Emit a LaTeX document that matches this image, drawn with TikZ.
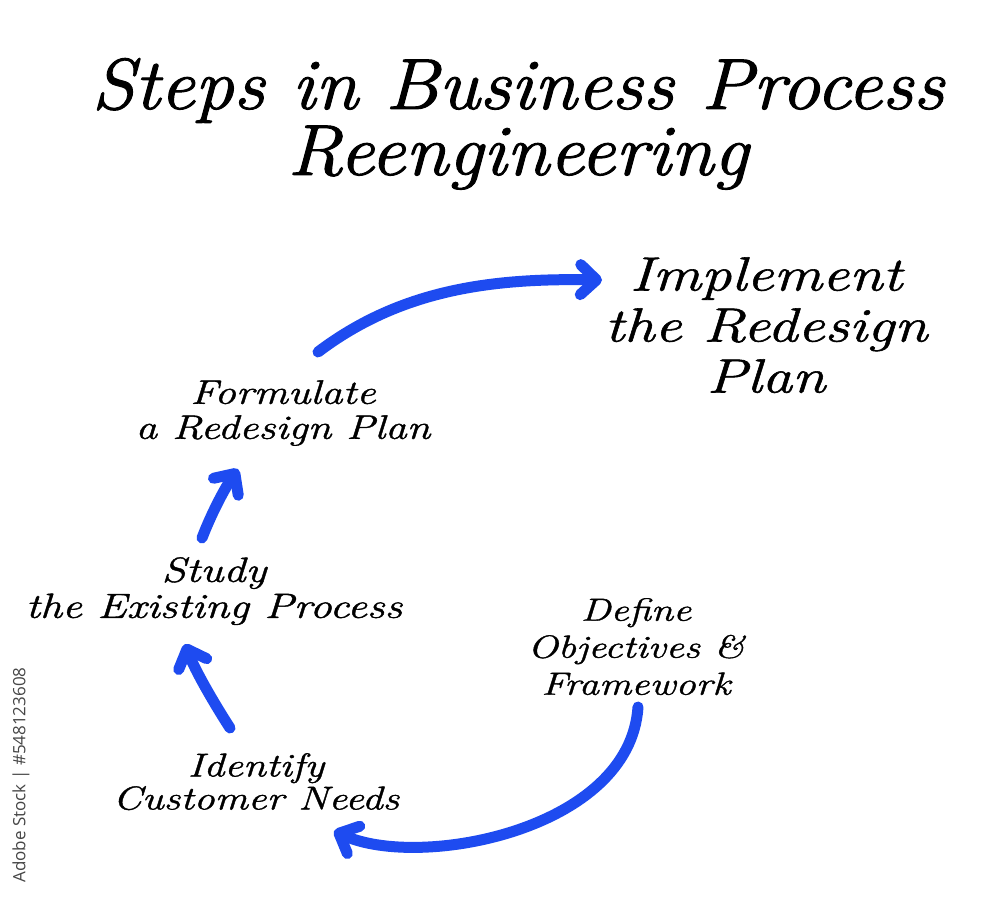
\documentclass[tikz,border=0pt]{standalone}
\usepackage{fontspec}
\newfontfamily\stockfont{Open Sans}
\newfontfamily\handfont[FakeStretch=1.26,FakeBold=1.2]{Latin Modern Roman}
\newfontfamily\titlefont[FakeStretch=1.08,FakeBold=1.4]{Latin Modern Roman}
\usetikzlibrary{arrows.meta,calc}
\definecolor{flowblue}{RGB}{30,75,240}
\definecolor{stockgray}{RGB}{70,70,70}
\tikzset{
  lbl/.style={anchor=north,inner sep=0pt,align=center,text=black},
  flow/.style={draw=flowblue,line width=11pt,line cap=round,
    -{Straight Barb[length=16pt,width=30pt,round]}},
}
\begin{document}
\begin{tikzpicture}[x=1pt,y=-1pt]
\useasboundingbox[fill=white] (0,0) rectangle (1000,902);
\node[lbl,font=\fontsize{72}{66}\titlefont\itshape] (title) at (518,58) {Steps in Business Process\\Reengineering};
\node[lbl,font=\fontsize{48}{51}\handfont\itshape] (implement) at (766,257) {Implement\\the Redesign\\Plan};
\node[lbl,font=\fontsize{34}{35}\handfont\itshape] (formulate) at (283,380) {Formulate\\a Redesign Plan};
\node[lbl,font=\fontsize{35}{36}\handfont\itshape] (study) at (214,557) {Study\\the Existing Process};
\node[lbl,font=\fontsize{32}{37}\handfont\itshape] (define) at (636,598) {Define\\Objectives \&\\Framework};
\node[lbl,font=\fontsize{33}{33}\handfont\itshape] (identify) at (256,753) {Identify\\Customer Needs};
\node[rotate=90,inner sep=0pt,text=stockgray,font=\fontsize{17}{17}\stockfont] (stock) at (21,775) {Adobe Stock | \#548123608};
% connectors
\draw[flow] ($(define.north)+(2,109)$) .. controls (630,830) and (420,870) .. ($(identify.north)+(78,78)$);
\draw[flow] ($(identify.north)+(-26,-25)$) .. controls (212,700) and (195,670) .. ($(study.north)+(-29,87)$);
\draw[flow] ($(study.north)+(-12,-19)$) .. controls (212,512) and (225,488) .. ($(formulate.north)+(-45,89)$);
\draw[flow] ($(formulate.north)+(35,-28)$) .. controls (400,290) and (490,278) .. ($(implement.north)+(-164,23)$);
\end{tikzpicture}
\end{document}
